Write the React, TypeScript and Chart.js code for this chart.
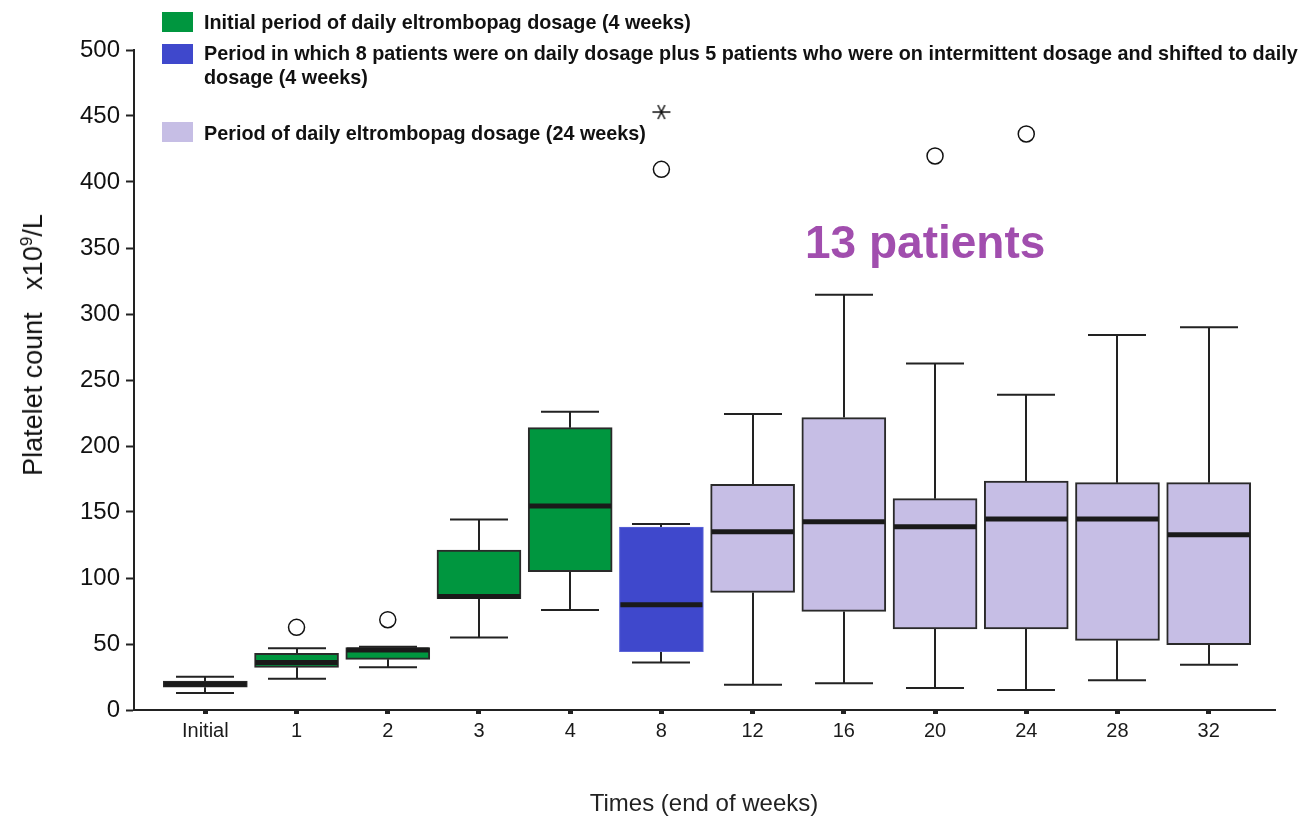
import React, { useEffect, useRef } from 'react';
import { Chart, registerables } from 'chart.js';

Chart.register(...registerables);

// ---- Data ----
const categories = ['Initial', '1', '2', '3', '4', '8', '12', '16', '20', '24', '28', '32'];
const whiskerLow = [12.8, 23.7, 32.3, 55, 75.8, 35.9, 19.2, 20.2, 16.7, 15.2, 22.5, 34.3];
const q1 = [17.3, 32.3, 38.4, 84.3, 104.8, 44.2, 89.1, 74.7, 61.4, 61.4, 52.8, 49.5];
const median = [19.6, 35.9, 45.5, 86, 154.5, 79.8, 135.1, 142.7, 138.9, 144.7, 144.7, 132.8];
const q3 = [21.9, 42.9, 47.3, 121.2, 213.9, 138.6, 171, 221.5, 160.1, 173.5, 172.2, 172.2];
const whiskerHigh = [25.2, 46.7, 48, 144.4, 226, 140.9, 224.2, 314.5, 262.5, 238.9, 284, 290];
const periods = ['green', 'green', 'green', 'green', 'green', 'blue', 'lavender', 'lavender', 'lavender', 'lavender', 'lavender', 'lavender'];
const outlierIndex = [1, 2, 5, 8, 9];
const outlierValue = [62.6, 68.4, 409.6, 419.7, 436.4];
const extremeIndex = [5];
const extremeValue = [453];
const yTicks = [0, 50, 100, 150, 200, 250, 300, 350, 400, 450, 500];
const legendLabels = [
  'Initial period of daily eltrombopag dosage (4 weeks)',
  'Period in which 8 patients were on daily dosage plus 5 patients who were on intermittent dosage and shifted to daily',
  'dosage (4 weeks)',
  'Period of daily eltrombopag dosage (24 weeks)',
];
const annotationText = '13 patients';

// ---- Styles ----
const fills: Record<string, string> = { green: '#00963F', blue: '#3F48CC', lavender: '#C6BEE5' };
const borders: Record<string, string> = { green: '#2a2a2a', blue: '#5c64d8', lavender: '#2a2a2a' };
const FONT = "'Liberation Sans', Arial, sans-serif";
const BOX_W = 84;
const CAP_W = 58;

function makeStar(): HTMLCanvasElement {
  const c = document.createElement('canvas');
  c.width = 20;
  c.height = 16;
  const g = c.getContext('2d')!;
  g.strokeStyle = '#111';
  g.lineWidth = 1.5;
  g.beginPath();
  g.moveTo(1, 8);
  g.lineTo(19, 8);
  g.moveTo(6.5, 1);
  g.lineTo(13.5, 15);
  g.moveTo(13.5, 1);
  g.lineTo(6.5, 15);
  g.stroke();
  return c;
}

const boxPlugin = {
  id: 'boxWhiskers',
  beforeDatasetsDraw(chart: any) {
    const { ctx } = chart;
    const xs = chart.scales.x;
    const ys = chart.scales.y;
    ctx.save();
    ctx.strokeStyle = '#222';
    ctx.lineWidth = 2;
    categories.forEach((_, i) => {
      const x = Math.round(xs.getPixelForValue(i));
      const yl = ys.getPixelForValue(whiskerLow[i]);
      const yh = ys.getPixelForValue(whiskerHigh[i]);
      const y1 = ys.getPixelForValue(q1[i]);
      const y3 = ys.getPixelForValue(q3[i]);
      ctx.beginPath();
      ctx.moveTo(x, y1);
      ctx.lineTo(x, yl);
      ctx.moveTo(x, y3);
      ctx.lineTo(x, yh);
      ctx.moveTo(x - CAP_W / 2, yl);
      ctx.lineTo(x + CAP_W / 2, yl);
      ctx.moveTo(x - CAP_W / 2, yh);
      ctx.lineTo(x + CAP_W / 2, yh);
      ctx.stroke();
    });
    ctx.restore();
  },
  afterDatasetsDraw(chart: any) {
    const { ctx } = chart;
    const xs = chart.scales.x;
    const ys = chart.scales.y;
    ctx.save();
    ctx.strokeStyle = '#1a1a1a';
    ctx.lineWidth = 5;
    categories.forEach((_, i) => {
      const x = xs.getPixelForValue(i);
      const y = ys.getPixelForValue(median[i]);
      ctx.beginPath();
      ctx.moveTo(x - BOX_W / 2 + 1, y);
      ctx.lineTo(x + BOX_W / 2 - 1, y);
      ctx.stroke();
    });
    ctx.restore();
  },
};

export default function App() {
  const ref = useRef<HTMLCanvasElement>(null);

  useEffect(() => {
    if (!ref.current) return;
    const chart = new Chart(ref.current, {
      type: 'bar',
      data: {
        datasets: [
          {
            type: 'scatter',
            label: 'outliers',
            data: outlierIndex.map((x, k) => ({ x, y: outlierValue[k] })),
            pointStyle: 'circle',
            pointRadius: 8,
            pointBackgroundColor: '#ffffff',
            pointBorderColor: '#111',
            pointBorderWidth: 1.5,
          } as any,
          {
            type: 'scatter',
            label: 'extreme',
            data: extremeIndex.map((x, k) => ({ x, y: extremeValue[k] })),
            pointStyle: makeStar(),
            pointRadius: 8,
          } as any,
          {
            type: 'bar',
            label: 'boxes',
            data: categories.map((_, i) => ({ x: i, y: [q1[i], q3[i]] })) as any,
            backgroundColor: periods.map((p) => fills[p]),
            borderColor: periods.map((p) => borders[p]),
            borderWidth: periods.map((p) => (p === 'blue' ? 1 : 2)),
            borderSkipped: false,
            barThickness: BOX_W,
          } as any,
        ],
      },
      options: {
        responsive: false,
        animation: false,
        devicePixelRatio: 1,
        layout: { padding: { left: 0, top: 50, right: 35, bottom: 0 } },
        plugins: { legend: { display: false }, tooltip: { enabled: false } },
        scales: {
          x: {
            type: 'linear',
            offset: false,
            min: -0.782,
            max: 11.727,
            afterBuildTicks: (scale: any) => {
              scale.ticks = categories.map((_, i) => ({ value: i }));
            },
            afterFit: (scale: any) => {
              scale.height = 107;
            },
            ticks: {
              autoSkip: false,
              maxRotation: 0,
              color: '#1a1a1a',
              font: { family: FONT, size: 20 },
              padding: 5,
              callback: (v: any) => categories[v as number] ?? '',
            },
            grid: {
              offset: false,
              drawOnChartArea: false,
              drawTicks: true,
              tickLength: 4,
              tickWidth: 5,
              tickColor: '#222',
            },
            border: { display: true, color: '#222', width: 2 },
          },
          y: {
            type: 'linear',
            min: 0,
            max: 500,
            afterBuildTicks: (scale: any) => {
              scale.ticks = yTicks.map((v) => ({ value: v }));
            },
            afterFit: (scale: any) => {
              scale.width = 134;
            },
            ticks: {
              color: '#111',
              font: { family: FONT, size: 24 },
              padding: 6,
            },
            grid: {
              drawOnChartArea: false,
              drawTicks: true,
              tickLength: 8,
              tickWidth: 2,
              tickColor: '#222',
            },
            border: { display: true, color: '#222', width: 2 },
          },
        },
      } as any,
      plugins: [boxPlugin],
    });
    return () => chart.destroy();
  }, []);

  const legendText: React.CSSProperties = {
    position: 'absolute',
    left: 204,
    fontFamily: FONT,
    fontWeight: 'bold',
    fontSize: 21,
    lineHeight: '24px',
    color: '#111',
    whiteSpace: 'nowrap',
    transform: 'scaleX(0.942)',
    transformOrigin: '0 0',
  };
  const swatch = (top: number, color: string): React.CSSProperties => ({
    position: 'absolute',
    left: 162,
    top,
    width: 31,
    height: 20,
    background: color,
  });

  return (
    <div style={{ position: 'absolute', left: 0, top: 0, width: 1310, height: 817, background: '#fff', overflow: 'hidden' }}>
      <canvas ref={ref} width={1310} height={817} style={{ display: 'block' }} />
      <div style={swatch(12, fills.green)} />
      <div style={{ ...legendText, top: 10 }}>{legendLabels[0]}</div>
      <div style={swatch(44, fills.blue)} />
      <div style={{ ...legendText, top: 41 }}>{legendLabels[1]}</div>
      <div style={{ ...legendText, top: 65 }}>{legendLabels[2]}</div>
      <div style={swatch(122, fills.lavender)} />
      <div style={{ ...legendText, top: 121 }}>{legendLabels[3]}</div>
      <div
        style={{
          position: 'absolute',
          left: 805,
          top: 219,
          fontFamily: FONT,
          fontWeight: 'bold',
          fontSize: 46,
          lineHeight: '46px',
          color: '#A14EAE',
          whiteSpace: 'nowrap',
        }}
      >
        {annotationText}
      </div>
      <div
        style={{
          position: 'absolute',
          left: 33,
          top: 345,
          transform: 'translate(-50%, -50%) rotate(-90deg)',
          fontFamily: FONT,
          fontSize: 27,
          color: '#111',
          whiteSpace: 'nowrap',
        }}
      >
        Platelet count&nbsp;&nbsp;&nbsp;x10<sup style={{ fontSize: 17 }}>9</sup>/L
      </div>
      <div
        style={{
          position: 'absolute',
          left: 704,
          top: 803,
          transform: 'translate(-50%, -50%)',
          fontFamily: FONT,
          fontSize: 24,
          color: '#222',
          whiteSpace: 'nowrap',
        }}
      >
        Times (end of weeks)
      </div>
    </div>
  );
}
